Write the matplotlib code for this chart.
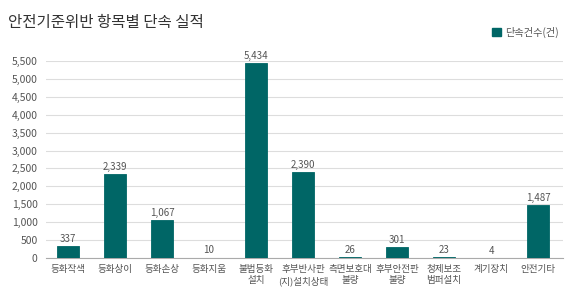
import matplotlib
matplotlib.use("Agg")
import matplotlib.pyplot as plt
from matplotlib.patches import Patch

plt.rcParams['font.family'] = ['Noto Sans CJK KR', 'DejaVu Sans']

categories = ['등화작색', '등화상이', '등화손상', '등화지움', '불법등화\n설치', '후부반사판\n(지)설치상태',
              '측면보호대\n불량', '후부안전판\n불량', '청제보조\n범퍼설치', '계기장치', '안전기타']
values = [337, 2339, 1067, 10, 5434, 2390, 26, 301, 23, 4, 1487]
yticks = list(range(0, 5501, 500))
title = '안전기준위반 항목별 단속 실적'
legend_label = '단속건수(건)'

bar_color = '#006666'
text_color = '#555555'

fig = plt.figure(figsize=(5.75, 3.08), dpi=100)
ax = fig.add_axes([46/575, 1-258/308, (563-46)/575, (258-61)/308])
x = list(range(len(categories)))
ax.bar(x, values, width=0.47, color=bar_color, edgecolor=bar_color, linewidth=0.6, zorder=3)
for xi, v in zip(x, values):
    ax.text(xi, v + 60, f'{v:,}', ha='center', va='bottom', fontsize=7, color=text_color)

ax.set_xlim(-0.47, 10.53)
ax.set_ylim(0, 5500)
ax.set_yticks(yticks)
ax.set_yticklabels([f'{t:,}' for t in yticks], fontsize=7.5, color=text_color)
ax.set_xticks(x)
ax.set_xticklabels(categories, fontsize=6.9, color=text_color, linespacing=1.35)
ax.tick_params(axis='both', length=0, pad=6)
ax.tick_params(axis='x', pad=5)
ax.grid(axis='y', color='#dddddd', linewidth=0.8, zorder=0)
for s in ['top', 'right', 'left']:
    ax.spines[s].set_visible(False)
ax.spines['bottom'].set_color('#aaaaaa')
ax.spines['bottom'].set_linewidth(0.8)

fig.text(8/575, 1-22/308, title, fontsize=11.2, color='#333333', va='center', ha='left')
fig.legend(handles=[Patch(color=bar_color)], labels=[legend_label], loc='center right',
           bbox_to_anchor=(568/575, 1-32/308), frameon=False, fontsize=7.3,
           handlelength=0.9, handleheight=0.9, handletextpad=0.4, labelcolor=text_color)

fig.savefig('out.png', dpi=100)
